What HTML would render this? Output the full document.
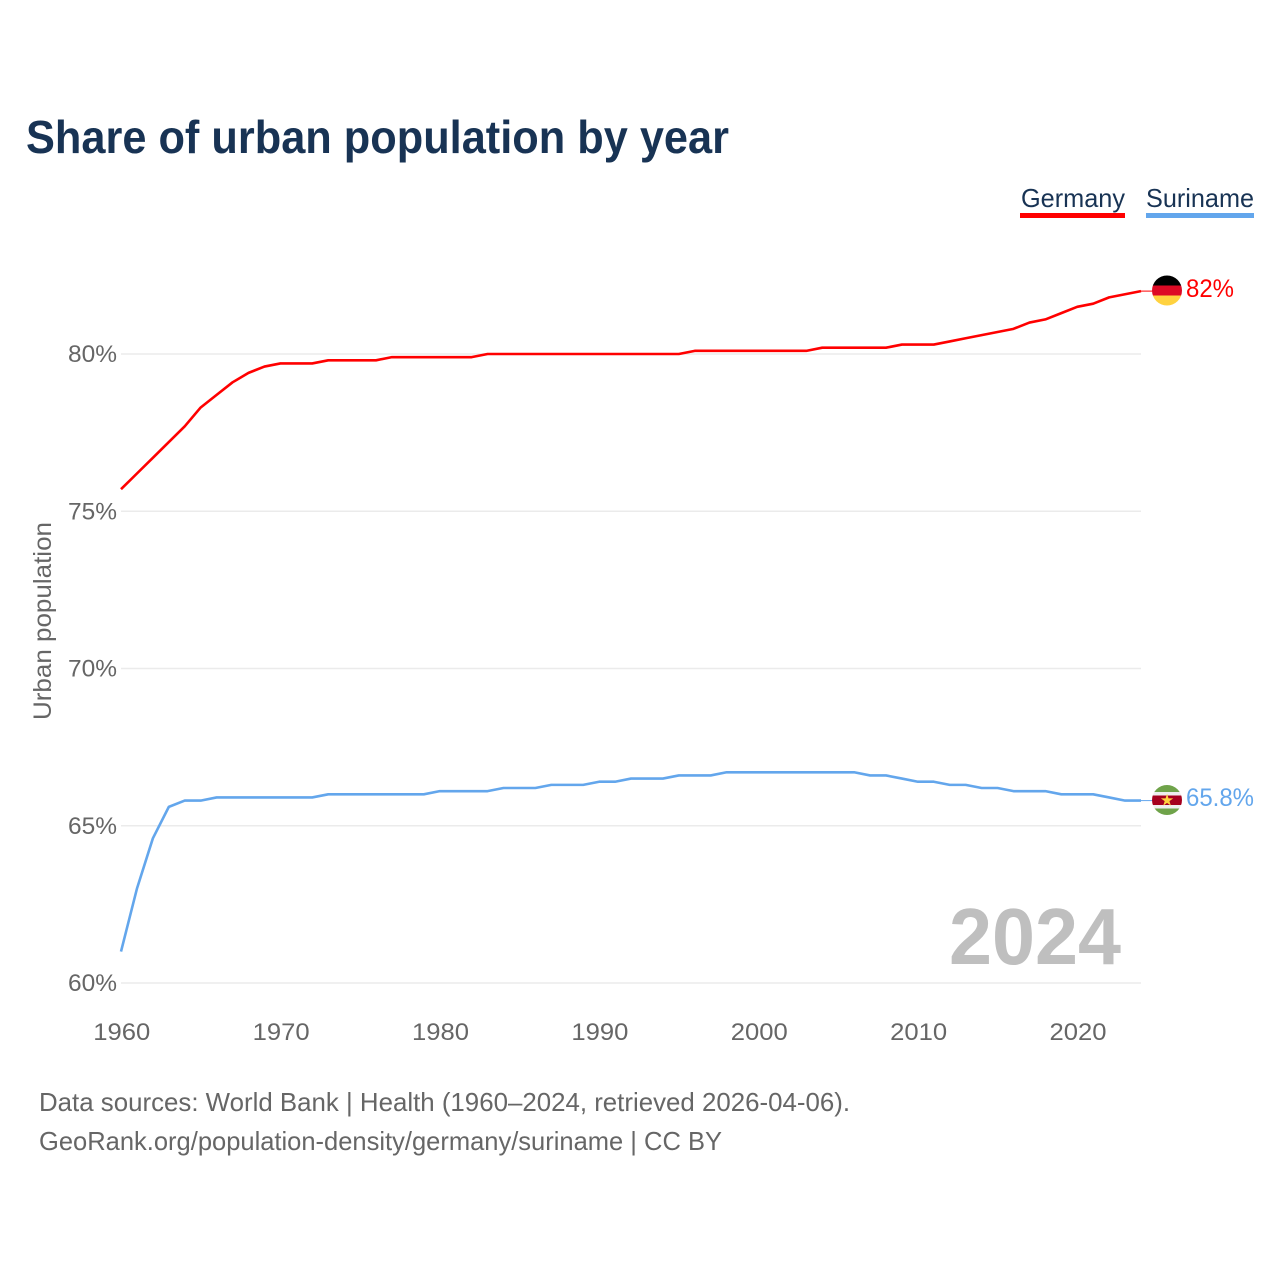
<!DOCTYPE html>
<html lang="en">
<head>
<meta charset="utf-8">
<title>Share of urban population by year</title>
<style>
  html, body { margin: 0; padding: 0; background: #fff; }
  svg { display: block; font-family: "Liberation Sans", sans-serif; }
  .tick { font-size: 24px; fill: #666; }
</style>
</head>
<body>
<svg id="chart" width="1280" height="1280" viewBox="0 0 1280 1280" xmlns="http://www.w3.org/2000/svg">
  <rect width="1280" height="1280" fill="#fff"/>
  <defs>
    <clipPath id="flag-de-clip"><circle cx="1167" cy="290.5" r="15"/></clipPath>
    <clipPath id="flag-sr-clip"><circle cx="1167" cy="800" r="15"/></clipPath>
  </defs>
  <text x="26" y="153" font-size="46" font-weight="700" fill="#183354" textLength="703" lengthAdjust="spacingAndGlyphs">Share of urban population by year</text>

  <g>
    <text x="1021" y="207" font-size="26" fill="#183354" textLength="104" lengthAdjust="spacingAndGlyphs">Germany</text>
    <rect x="1020" y="213" width="105" height="5" fill="#ff0000"/>
  </g>
  <g>
    <text x="1146" y="207" font-size="26" fill="#183354" textLength="108" lengthAdjust="spacingAndGlyphs">Suriname</text>
    <rect x="1146" y="213" width="108" height="5" fill="#63a6ec"/>
  </g>

  <g id="grid"></g>
  <g id="y-axis"></g>
  <g id="x-axis"></g>
  <text transform="translate(51 720) rotate(-90)" font-size="25" fill="#666" textLength="198" lengthAdjust="spacingAndGlyphs">Urban population</text>

  <text x="949" y="964" font-size="80" font-weight="700" fill="#bfbfbf" textLength="172" lengthAdjust="spacingAndGlyphs">2024</text>

  <g id="series"></g>

  <g clip-path="url(#flag-de-clip)">
    <rect x="1152" y="275" width="30" height="10.5" fill="#000"/>
    <rect x="1152" y="285.5" width="30" height="10" fill="#dd0a25"/>
    <rect x="1152" y="295.5" width="30" height="11" fill="#ffd23f"/>
  </g>
  <text x="1186" y="297" font-size="25" fill="#ff0000" textLength="48" lengthAdjust="spacingAndGlyphs">82%</text>

  <g clip-path="url(#flag-sr-clip)">
    <rect x="1152" y="785" width="30" height="7" fill="#6fa34a"/>
    <rect x="1152" y="792" width="30" height="3.5" fill="#eeeeee"/>
    <rect x="1152" y="795.5" width="30" height="9.5" fill="#a5001e"/>
    <rect x="1152" y="805" width="30" height="3.5" fill="#eeeeee"/>
    <rect x="1152" y="808.5" width="30" height="7" fill="#6fa34a"/>
    <text x="1167" y="805.5" font-size="16" text-anchor="middle" fill="#ffd23f" style='font-family:"DejaVu Sans",sans-serif'>★</text>
  </g>
  <text x="1186" y="806" font-size="25" fill="#63a6ec" textLength="68" lengthAdjust="spacingAndGlyphs">65.8%</text>

  <text x="39" y="1111" font-size="26" fill="#666" textLength="811" lengthAdjust="spacingAndGlyphs">Data sources: World Bank | Health (1960–2024, retrieved 2026-04-06).</text>
  <text x="39" y="1150" font-size="26" fill="#666" textLength="683" lengthAdjust="spacingAndGlyphs">GeoRank.org/population-density/germany/suriname | CC BY</text>
</svg>
<script>
const startYear = 1960;
const germanyValues = [75.7,76.2,76.7,77.2,77.7,78.3,78.7,79.1,79.4,79.6,79.7,79.7,79.7,79.8,79.8,79.8,79.8,79.9,79.9,79.9,79.9,79.9,79.9,80.0,80.0,80.0,80.0,80.0,80.0,80.0,80.0,80.0,80.0,80.0,80.0,80.0,80.1,80.1,80.1,80.1,80.1,80.1,80.1,80.1,80.2,80.2,80.2,80.2,80.2,80.3,80.3,80.3,80.4,80.5,80.6,80.7,80.8,81.0,81.1,81.3,81.5,81.6,81.8,81.9,82.0];
const surinameValues = [61.0,63.0,64.6,65.6,65.8,65.8,65.9,65.9,65.9,65.9,65.9,65.9,65.9,66.0,66.0,66.0,66.0,66.0,66.0,66.0,66.1,66.1,66.1,66.1,66.2,66.2,66.2,66.3,66.3,66.3,66.4,66.4,66.5,66.5,66.5,66.6,66.6,66.6,66.7,66.7,66.7,66.7,66.7,66.7,66.7,66.7,66.7,66.6,66.6,66.5,66.4,66.4,66.3,66.3,66.2,66.2,66.1,66.1,66.1,66.0,66.0,66.0,65.9,65.8,65.8];
const yTicks = [60,65,70,75,80];
const xTicks = [1960,1970,1980,1990,2000,2010,2020];

const SVG_NS = 'http://www.w3.org/2000/svg';
const xScale = function (year) { return 121 + (year - 1960) * (1141 - 121) / 64; };
const yScale = function (v) { return 983 - (v - 60) * (983 - 354) / 20; };

function make(tag, parent, attrs) {
  const el = document.createElementNS(SVG_NS, tag);
  for (const k in attrs) el.setAttribute(k, attrs[k]);
  parent.appendChild(el);
  return el;
}

const grid = document.getElementById('grid');
const yAxis = document.getElementById('y-axis');
const xAxis = document.getElementById('x-axis');
const seriesGroup = document.getElementById('series');

yTicks.forEach(function (t) {
  const line = make('line', grid, { x1: 121, x2: 1141, y1: yScale(t), y2: yScale(t), stroke: '#ebebeb', 'stroke-width': 1.5 });
  
  
  const label = make('text', yAxis, { x: 117, y: yScale(t) + 8, 'text-anchor': 'end', class: 'tick', textLength: 49, lengthAdjust: 'spacingAndGlyphs' });
  
  
  label.textContent = t + '%';
});

xTicks.forEach(function (t) {
  const label = make('text', xAxis, { x: xScale(t) + 0.8, y: 1040, 'text-anchor': 'middle', class: 'tick', textLength: 57, lengthAdjust: 'spacingAndGlyphs' });
  
  
  label.textContent = t;
});

function drawSeries(values, color, name) {
  const pts = values.map(function (v, i) {
    return xScale(startYear + i).toFixed(2) + ',' + yScale(v).toFixed(2);
  });
  const line = make('polyline', seriesGroup, { points: pts.join(' '), fill: 'none', stroke: color, 'stroke-width': 2.6, 'stroke-linejoin': 'round' });
  
  
  const lastV = values[values.length - 1];
  const lead = make('line', seriesGroup, { x1: xScale(startYear + values.length - 1), x2: 1153, y1: yScale(lastV), y2: yScale(lastV), stroke: color, 'stroke-width': 1 });
  
  
}

drawSeries(germanyValues, '#ff0000', 'germany');
drawSeries(surinameValues, '#63a6ec', 'suriname');
</script>
</body>
</html>
